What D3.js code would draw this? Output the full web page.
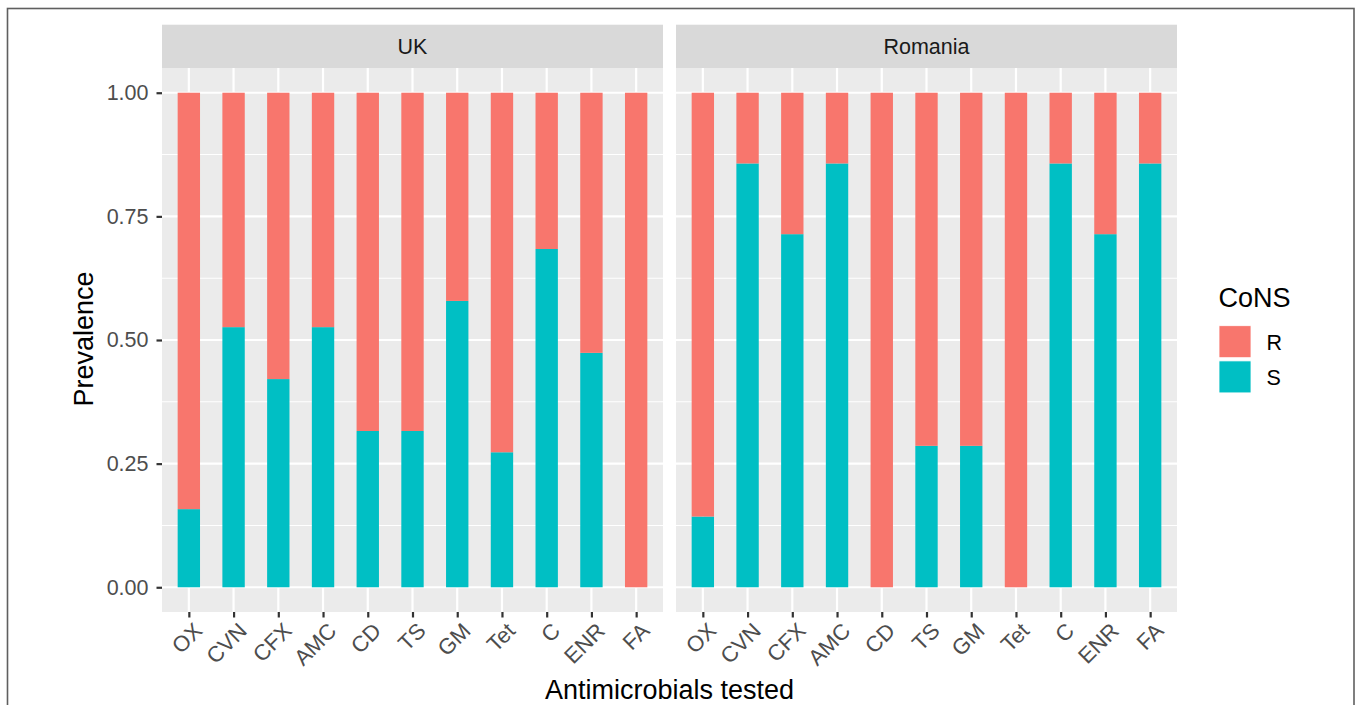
<!DOCTYPE html>
<html>
<head>
<meta charset="utf-8">
<script src="https://cdn.jsdelivr.net/npm/d3@7"></script>
<style>
  html, body { margin: 0; padding: 0; background: #fff; }
  svg { display: block; font-family: "Liberation Sans", Arial, Helvetica, sans-serif; }
</style>
</head>
<body>
<svg id="chart" width="1363" height="705"></svg>
<script>
// ---- Data ----
const antimicrobials = ["OX", "CVN", "CFX", "AMC", "CD", "TS", "GM", "Tet", "C", "ENR", "FA"];
const countries = ["UK", "Romania"];
const susceptibleUK = [0.158, 0.526, 0.421, 0.526, 0.316, 0.316, 0.579, 0.273, 0.684, 0.474, 0];
const susceptibleRomania = [0.143, 0.857, 0.714, 0.857, 0, 0.286, 0.286, 0, 0.857, 0.714, 0.857];
const resistanceLevels = ["R", "S"];
const yTicks = [0, 0.25, 0.5, 0.75, 1];
const yMinorTicks = [0.125, 0.375, 0.625, 0.875];
const legendTitle = "CoNS";
const xTitle = "Antimicrobials tested";
const yTitle = "Prevalence";

const susceptibleBy = { UK: susceptibleUK, Romania: susceptibleRomania };
const colors = { R: "#F8766D", S: "#00BFC4" };

// ---- Layout ----
const svg = d3.select("#chart");
const panelTop = 68, panelBottom = 612;
const stripTop = 24.7;
const panels = [ { name: "UK", x0: 162, x1: 663 }, { name: "Romania", x0: 676, x1: 1177 } ];

// outer border
svg.append("rect").attr("x", 7.5).attr("y", 8.5).attr("width", 1346.5).attr("height", 720)
  .attr("fill", "none").attr("stroke", "#5f5f5f").attr("stroke-width", 1.6);

const y = d3.scaleLinear().domain([-0.05, 1.05]).range([panelBottom, panelTop]);

panels.forEach((p, pi) => {
  const x = d3.scalePoint().domain(antimicrobials).range([p.x0, p.x1]).padding(0.6);
  const bw = x.step() * 0.5;
  const g = svg.append("g");

  // strip
  g.append("rect").attr("x", p.x0).attr("y", stripTop).attr("width", p.x1 - p.x0)
    .attr("height", panelTop - stripTop).attr("fill", "#D9D9D9");
  g.append("text").attr("x", (p.x0 + p.x1) / 2).attr("y", 54.3)
    .attr("text-anchor", "middle").attr("font-size", 21.5).attr("fill", "#1A1A1A").text(countries[pi]);

  // panel background
  g.append("rect").attr("x", p.x0).attr("y", panelTop).attr("width", p.x1 - p.x0)
    .attr("height", panelBottom - panelTop).attr("fill", "#EBEBEB");

  // minor gridlines
  g.selectAll(".ymin").data(yMinorTicks).enter().append("line")
    .attr("x1", p.x0).attr("x2", p.x1).attr("y1", d => y(d)).attr("y2", d => y(d))
    .attr("stroke", "#fff").attr("stroke-width", 1.1);
  // major gridlines
  g.selectAll(".ymaj").data(yTicks).enter().append("line")
    .attr("x1", p.x0).attr("x2", p.x1).attr("y1", d => y(d)).attr("y2", d => y(d))
    .attr("stroke", "#fff").attr("stroke-width", 2.2);
  g.selectAll(".xmaj").data(antimicrobials).enter().append("line")
    .attr("x1", d => x(d)).attr("x2", d => x(d)).attr("y1", panelTop).attr("y2", panelBottom)
    .attr("stroke", "#fff").attr("stroke-width", 2.2);

  // bars
  const sVals = susceptibleBy[p.name];
  const rows = antimicrobials.map((a, i) => ({ a, S: sVals[i], R: 1 - sVals[i] }));
  const stack = d3.stack().keys(["S", "R"])(rows);
  stack.forEach(layer => {
    g.selectAll(".bar-" + layer.key).data(layer).enter().append("rect")
      .attr("x", d => x(d.data.a) - bw / 2).attr("width", bw)
      .attr("y", d => y(d[1])).attr("height", d => Math.max(0, y(d[0]) - y(d[1])))
      .attr("fill", colors[layer.key]);
  });

  // x axis
  const xAxis = d3.axisBottom(x).tickSize(5.5).tickPadding(0);
  const ax = svg.append("g").attr("transform", `translate(0,${panelBottom})`).call(xAxis);
  ax.select(".domain").remove();
  ax.selectAll(".tick line").attr("stroke", "#333").attr("stroke-width", 2.2);
  ax.selectAll(".tick text")
    .attr("font-size", 22).attr("fill", "#4D4D4D")
    .attr("text-anchor", "end").attr("dy", "0.72em")
    .attr("transform", "translate(3,9) rotate(-45)")
    .attr("y", 0).attr("x", 0);

  if (pi === 0) {
    const yAxis = d3.axisLeft(y).tickValues(yTicks).tickFormat(d3.format(".2f")).tickSize(5.5).tickPadding(8);
    const ay = svg.append("g").attr("transform", `translate(${p.x0},0)`).call(yAxis);
    ay.select(".domain").remove();
    ay.selectAll(".tick line").attr("stroke", "#333").attr("stroke-width", 2.2);
    ay.selectAll(".tick text").attr("font-size", 21.5).attr("fill", "#4D4D4D").attr("font-family", "Liberation Sans, Arial, sans-serif");
  }
});

// axis titles
svg.append("text").attr("x", 669.5).attr("y", 699).attr("text-anchor", "middle")
  .attr("font-size", 27).attr("fill", "#000").text(xTitle);
svg.append("text").attr("transform", "translate(92.5,339) rotate(-90)").attr("text-anchor", "middle")
  .attr("font-size", 27).attr("fill", "#000").text(yTitle);

// legend
svg.append("text").attr("x", 1218.5).attr("y", 307.3).attr("font-size", 27).attr("fill", "#000").text(legendTitle);
resistanceLevels.forEach((lv, i) => {
  const ky = 325.7 + i * 35.2;
  svg.append("rect").attr("x", 1219).attr("y", ky).attr("width", 32).attr("height", 32)
    .attr("fill", colors[lv]).attr("stroke", "#fff").attr("stroke-width", 0.8);
  svg.append("text").attr("x", 1266.5).attr("y", ky + 24.3).attr("font-size", 21.5).attr("fill", "#000").text(lv);
});
</script>
</body>
</html>
